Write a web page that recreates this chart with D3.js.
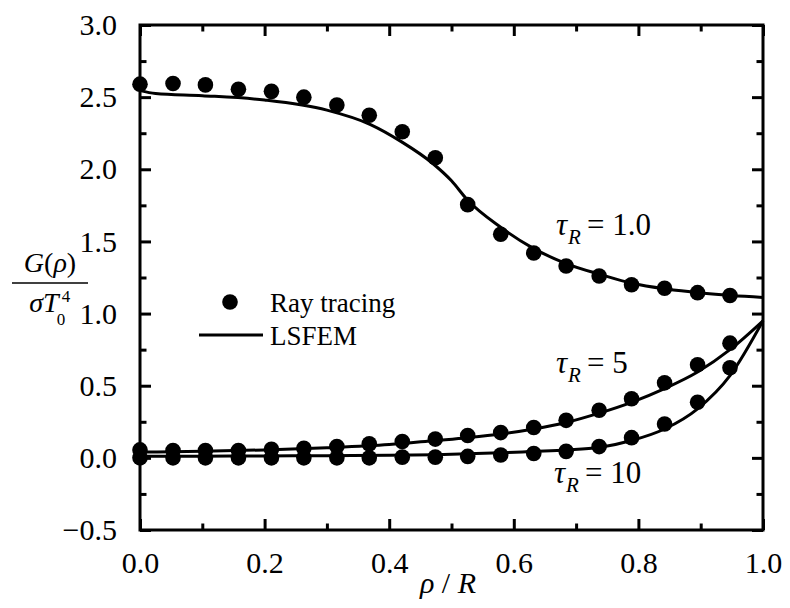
<!DOCTYPE html>
<html lang="en">
<head>
  <meta charset="UTF-8">
  <title>G(rho) profiles</title>
  <script src="https://cdnjs.cloudflare.com/ajax/libs/d3/7.8.5/d3.min.js"></script>
  <style>
    body { margin: 0; background: #fff; }
  </style>
</head>
<body>
  <script>
    // ray tracing points (dots)
    const rho = [0, 0.053, 0.105, 0.158, 0.211, 0.263, 0.316, 0.368, 0.421, 0.474,
      0.526, 0.579, 0.632, 0.684, 0.737, 0.789, 0.842, 0.895, 0.947];
    const rayTau1 = [2.59, 2.595, 2.585, 2.555, 2.54, 2.50, 2.445, 2.375, 2.26, 2.08,
      1.755, 1.55, 1.42, 1.33, 1.26, 1.20, 1.175, 1.145, 1.125];
    const rayTau5 = [0.055, 0.051, 0.051, 0.051, 0.06, 0.067, 0.078, 0.097, 0.113, 0.13,
      0.155, 0.175, 0.21, 0.26, 0.33, 0.41, 0.52, 0.645, 0.795];
    const rayTau10 = [0.0, 0.0, 0.0, 0.0, 0.0, 0.0, 0.0, 0.0, 0.005, 0.005,
      0.01, 0.02, 0.03, 0.045, 0.078, 0.14, 0.235, 0.385, 0.625];

    // LSFEM curves
    const lineRho1 = [0, 0.025, 0.1, 0.2, 0.3, 0.37, 0.42, 0.47, 0.5, 0.525,
      0.58, 0.63, 0.685, 0.74, 0.79, 0.845, 0.9, 0.95, 1.0];
    const lsTau1 = [2.545, 2.525, 2.51, 2.48, 2.41, 2.31, 2.19, 2.04, 1.92, 1.79,
      1.595, 1.455, 1.345, 1.27, 1.21, 1.17, 1.143, 1.125, 1.112];
    const lineRho = [0, 0.1, 0.2, 0.3, 0.4, 0.474, 0.526, 0.579, 0.632, 0.684,
      0.737, 0.789, 0.842, 0.895, 0.947, 1.0];
    const lsTau5 = [0.04, 0.045, 0.055, 0.07, 0.092, 0.12, 0.14, 0.165, 0.2, 0.245,
      0.31, 0.385, 0.48, 0.595, 0.75, 0.95];
    const lsTau10 = [0.012, 0.012, 0.013, 0.015, 0.018, 0.022, 0.028, 0.035, 0.045, 0.055,
      0.072, 0.12, 0.2, 0.34, 0.57, 0.95];

    const xTicks = [0, 0.2, 0.4, 0.6, 0.8, 1.0];
    const xMinor = [0.1, 0.3, 0.5, 0.7, 0.9];
    const yTicks = [-0.5, 0, 0.5, 1.0, 1.5, 2.0, 2.5, 3.0];
    const yMinor = [-0.25, 0.25, 0.75, 1.25, 1.75, 2.25, 2.75];

    const serif = "'Liberation Serif', Tinos, 'Times New Roman', 'DejaVu Serif', serif";

    const margin = { top: 25, right: 27, bottom: 78, left: 140 },
      width = 790 - margin.left - margin.right,
      height = 608 - margin.top - margin.bottom;

    let svg = d3.select("body").append("svg")
      .attr("width", 790)
      .attr("height", 608)
      .attr("font-family", serif);

    let g = svg.append("g")
      .attr("transform", "translate(" + margin.left + "," + margin.top + ")");

    let x = d3.scaleLinear().domain([0, 1]).range([0, width]);
    let y = d3.scaleLinear().domain([-0.5, 3.0]).range([height, 0]);

    // axes with inward ticks, mirrored on top/right
    function styleAxis(sel) {
      sel.attr("font-family", serif).attr("font-size", 30);
      sel.select(".domain").remove();
      sel.selectAll(".tick line").attr("stroke", "#000").attr("stroke-width", 3);
      sel.selectAll("text").attr("fill", "#000").style("font-family", serif);
    }

    g.append("g").attr("transform", "translate(0," + height + ")")
      .call(d3.axisBottom(x).tickValues(xTicks).tickSize(-11).tickPadding(22)
        .tickFormat(d3.format(".1f")))
      .call(styleAxis);
    g.append("g").attr("transform", "translate(0," + height + ")")
      .call(d3.axisBottom(x).tickValues(xMinor).tickSize(-6.5).tickFormat(""))
      .call(styleAxis);
    g.append("g")
      .call(d3.axisTop(x).tickValues(xTicks).tickSize(-11).tickFormat(""))
      .call(styleAxis);
    g.append("g")
      .call(d3.axisTop(x).tickValues(xMinor).tickSize(-6.5).tickFormat(""))
      .call(styleAxis);

    g.append("g")
      .call(d3.axisLeft(y).tickValues(yTicks).tickSize(-11).tickPadding(23)
        .tickFormat(d3.format(".1f")))
      .call(styleAxis);
    g.append("g")
      .call(d3.axisLeft(y).tickValues(yMinor).tickSize(-6.5).tickFormat(""))
      .call(styleAxis);
    g.append("g").attr("transform", "translate(" + width + ",0)")
      .call(d3.axisRight(y).tickValues(yTicks).tickSize(-11).tickFormat(""))
      .call(styleAxis);
    g.append("g").attr("transform", "translate(" + width + ",0)")
      .call(d3.axisRight(y).tickValues(yMinor).tickSize(-6.5).tickFormat(""))
      .call(styleAxis);

    // frame
    g.append("rect")
      .attr("width", width).attr("height", height)
      .attr("fill", "none").attr("stroke", "#000").attr("stroke-width", 3);

    // LSFEM lines
    let line = d3.line()
      .x(d => x(d[0]))
      .y(d => y(d[1]))
      .curve(d3.curveMonotoneX);

    const curves = [
      d3.zip(lineRho1, lsTau1),
      d3.zip(lineRho, lsTau5),
      d3.zip(lineRho, lsTau10)
    ];
    g.selectAll(".lsfem").data(curves).enter().append("path")
      .attr("class", "lsfem")
      .attr("d", line)
      .attr("fill", "none")
      .attr("stroke", "#000")
      .attr("stroke-width", 3);

    // ray tracing dots
    [rayTau1, rayTau5, rayTau10].forEach(function (vals) {
      g.append("g").selectAll("circle")
        .data(d3.zip(rho, vals))
        .enter().append("circle")
        .attr("cx", d => x(d[0]))
        .attr("cy", d => y(d[1]))
        .attr("r", 7.8)
        .attr("fill", "#000");
    });

    function txt(px, py, size) {
      return svg.append("text").attr("x", px).attr("y", py)
        .style("font-family", serif).style("font-size", size + "px");
    }

    // legend
    svg.append("circle").attr("cx", 230).attr("cy", 302).attr("r", 7.8).attr("fill", "#000");
    txt(270, 312, 27).text("Ray tracing");
    svg.append("line").attr("x1", 199).attr("x2", 263).attr("y1", 335).attr("y2", 335)
      .attr("stroke", "#000").attr("stroke-width", 3);
    txt(270, 345, 27).text("LSFEM");

    // curve labels
    function tauLabel(px, py, val) {
      let t = txt(px, py, 31);
      t.append("tspan").style("font-style", "italic").text("τ");
      t.append("tspan").style("font-style", "italic").style("font-size", "21px")
        .attr("dy", 9).attr("dx", 1).text("R");
      t.append("tspan").attr("dy", -9).attr("dx", 6).text("= " + val);
    }
    tauLabel(556, 235, "1.0");
    tauLabel(556, 373, "5");
    tauLabel(554, 483, "10");

    // x axis title
    let xt = txt(448, 593, 30).attr("text-anchor", "middle");
    xt.append("tspan").style("font-style", "italic").text("ρ");
    xt.append("tspan").text(" / ");
    xt.append("tspan").style("font-style", "italic").text("R");

    // y axis title (fraction)
    let num = txt(50, 272, 28).attr("text-anchor", "middle");
    num.append("tspan").style("font-style", "italic").text("G");
    num.append("tspan").text("(");
    num.append("tspan").style("font-style", "italic").text("ρ");
    num.append("tspan").text(")");
    svg.append("line").attr("x1", 12).attr("x2", 88).attr("y1", 283).attr("y2", 283)
      .attr("stroke", "#000").attr("stroke-width", 1.5);
    let den = txt(0, 312, 28);
    den.append("tspan").style("font-style", "italic").text("σT");
    let denW = den.node().getComputedTextLength();
    let denX = 50 - (denW + 12) / 2;
    den.attr("x", denX);
    txt(denX + denW - 2, 325, 17).text("0");
    txt(denX + denW + 3, 302, 17).text("4");
  </script>
</body>
</html>
